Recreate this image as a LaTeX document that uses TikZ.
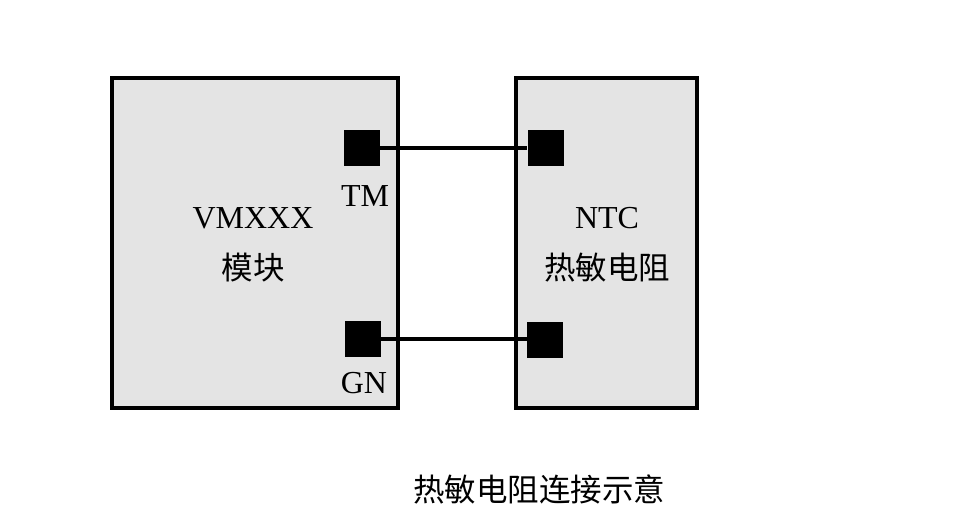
\documentclass[tikz,border=0pt]{standalone}
\usepackage{fontspec}
\setmainfont{Liberation Serif}
\newfontfamily\cjk{Noto Sans CJK SC}
\definecolor{boxgray}{HTML}{E4E4E4}
\begin{document}
\begin{tikzpicture}[x=1pt,y=-1pt,
  modbox/.style={draw=black,fill=boxgray,line width=4pt,rectangle,inner sep=0pt},
  pad/.style={fill=black,rectangle,inner sep=0pt,minimum width=36pt,minimum height=36pt},
  wire/.style={draw=black,line width=4pt},
  lbl/.style={font=\fontsize{32}{36}\selectfont,inner sep=0pt,align=center},
  cn/.style={font=\fontsize{31.5}{36}\selectfont\cjk,inner sep=0pt}]
\useasboundingbox (0,0) rectangle (978,523);
\node[modbox,minimum width=286pt,minimum height=330pt] (mod) at (255,243) {};
\node[modbox,minimum width=181pt,minimum height=330pt] (ntc) at (606.5,243) {};
\node[pad] (tm) at (362,148) {};
\node[pad] (gn) at (363,339) {};
\node[pad] (ntop) at (545.5,148) {};
\node[pad] (nbot) at (545,340) {};
\draw[wire] (tm.east) -- (tm.east -| ntop.west);
\draw[wire] (gn.east) -- (gn.east -| nbot.west);
\node[lbl] (tmlbl) at (365,196) {TM};
\node[lbl] (gnlbl) at (364,383) {GN};
\node[lbl] (vm) at (253,218) {VMXXX};
\node[cn] (mk) at (253,268) {模块};
\node[lbl] (ntclbl) at (607,218) {NTC};
\node[cn] (rm) at (607,268) {热敏电阻};
\node[cn] (cap) at (539,489) {热敏电阻连接示意};
\end{tikzpicture}
\end{document}
